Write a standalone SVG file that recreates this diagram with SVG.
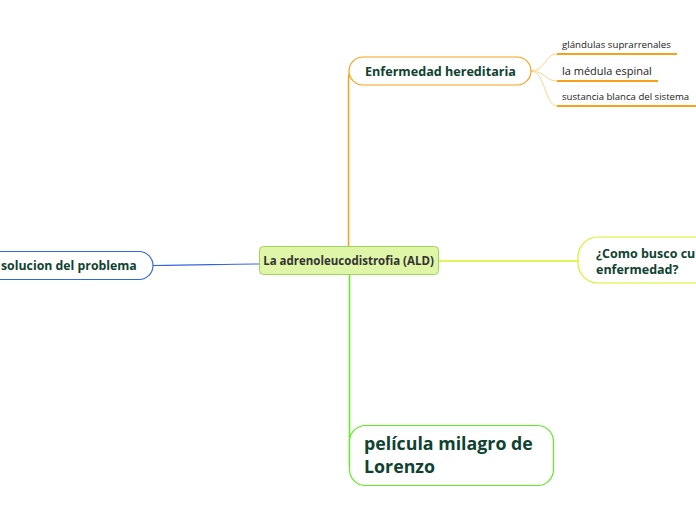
<svg xmlns="http://www.w3.org/2000/svg" width="696" height="520" viewBox="0 0 696 520">
<style>
.t{font-family:"Open Sans","Noto Sans","DejaVu Sans",sans-serif;font-weight:bold;fill:#0f4230}
.s{font-family:"Open Sans","Noto Sans","DejaVu Sans",sans-serif;fill:#222}
.c{fill:none}
</style>
<rect width="696" height="520" fill="#ffffff"/>
<g id="connectors">
<path class="c" d="M348.5,246 V80 Q348.5,71 352,71" stroke="#f7a11a" stroke-width="1.5"/>
<path class="c" d="M349.5,274 V465 Q349.5,450 360,440" stroke="#5cee22" stroke-width="1.5"/>
<path class="c" d="M438,261 H578" stroke="#d6f224" stroke-width="1.5"/>
<path class="c" d="M153,265.5 C200,265.5 220,264 259,264" stroke="#3366e0" stroke-width="1.2"/>
<path class="c" d="M531,71 C545,71 545,54 557,54" stroke="#ffd28a" stroke-width="1"/>
<path class="c" d="M531,71 C545,71 545,81 557,81" stroke="#ffd28a" stroke-width="1"/>
<path class="c" d="M531,71 C545,71 545,106 557,106" stroke="#ffd28a" stroke-width="1"/>
</g>
<g id="central">
<rect x="259.5" y="246.5" width="179" height="28" rx="4" fill="#dff5a8" stroke="#9fd35a" stroke-width="1"/>
<text class="t" x="348.5" y="265" font-size="11.5" text-anchor="middle" style="fill:#333">La adrenoleucodistrofia (ALD)</text>
</g>
<g id="enfermedad">
<rect x="349" y="57" width="182" height="28" rx="14" fill="#fff" stroke="#f7a11a" stroke-width="1.2"/>
<text class="t" x="365" y="76" font-size="12.6">Enfermedad hereditaria</text>
</g>
<g id="glandulas">
<line x1="557" y1="54" x2="677" y2="54" stroke="#f7a11a" stroke-width="2"/>
<text class="s" x="562" y="48" font-size="9.7">glándulas suprarrenales</text>
</g>
<g id="medula">
<line x1="557" y1="81" x2="658" y2="81" stroke="#f7a11a" stroke-width="2"/>
<text class="s" x="562" y="75" font-size="11">la médula espinal</text>
</g>
<g id="sustancia">
<line x1="557" y1="106" x2="696" y2="106" stroke="#f7a11a" stroke-width="2"/>
<text class="s" x="562" y="100" font-size="9.6">sustancia blanca del sistema</text>
</g>
<g id="como">
<rect x="578" y="237" width="160" height="46" rx="20" fill="#fff" stroke="#d6f224" stroke-width="1.2"/>
<text class="t" x="596" y="258" font-size="12.5">¿Como busco cu</text>
<text class="t" x="596" y="273.5" font-size="12.5">enfermedad?</text>
</g>
<g id="solucion">
<rect x="-30" y="251.5" width="183" height="28" rx="14" fill="#fff" stroke="#3366e0" stroke-width="1.2"/>
<text class="t" x="1" y="270" font-size="12.3">solucion del problema</text>
</g>
<g id="pelicula">
<rect x="349.5" y="425.5" width="204" height="60" rx="16" fill="#fff" stroke="#5cee22" stroke-width="1.2"/>
<text class="t" x="364" y="450" font-size="17.8">película milagro de</text>
<text class="t" x="364" y="473" font-size="17.8">Lorenzo</text>
</g>
</svg>
